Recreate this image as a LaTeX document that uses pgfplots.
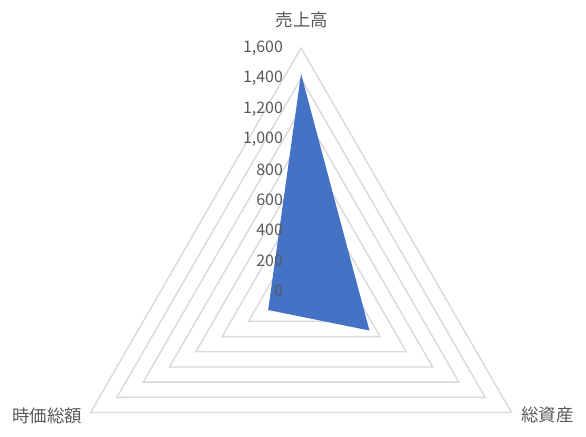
\documentclass[border=0pt]{standalone}
\usepackage{fontspec}
\setmainfont{Noto Sans CJK JP}
\usepackage{pgfplots}
\pgfplotsset{compat=1.18}

\definecolor{series}{RGB}{68,114,196}
\definecolor{gridc}{RGB}{217,217,217}
\definecolor{txt}{RGB}{89,89,89}

\begin{document}
\begin{tikzpicture}
\begin{axis}[
  x=0.151875bp, y=0.151875bp,
  xmin=-1982, xmax=1876, ymin=-961, ymax=1916,
  hide axis, clip=false,
]
% grid triangles, one per 200
\pgfplotsinvokeforeach{200,400,600,800,1000,1200,1400,1600}{
  \addplot[gridc, line width=1.4bp, data cs=polar, mark=none]
    coordinates {(90,#1)(210,#1)(330,#1)(90,#1)(210,#1)};
}
% series
\addplot[fill=series, draw=none, data cs=polar, mark=none]
  coordinates {(90,1430)(210,250)(330,520)(90,1430)};
% value labels
\pgfplotsinvokeforeach{0,200,400,600,800}{
  \node[anchor=east, text=txt, font=\fontsize{16}{16}\selectfont, inner sep=0pt]
    at (axis cs:-118,#1) {#1};
}
\node[anchor=east, text=txt, font=\fontsize{16}{16}\selectfont, inner sep=0pt] at (axis cs:-118,1000) {1,000};
\node[anchor=east, text=txt, font=\fontsize{16}{16}\selectfont, inner sep=0pt] at (axis cs:-118,1200) {1,200};
\node[anchor=east, text=txt, font=\fontsize{16}{16}\selectfont, inner sep=0pt] at (axis cs:-118,1400) {1,400};
\node[anchor=east, text=txt, font=\fontsize{16}{16}\selectfont, inner sep=0pt] at (axis cs:-118,1600) {1,600};
% category labels
\node[text=txt, font=\fontsize{17.5}{17.5}\selectfont, inner sep=0pt] at (axis cs:7,1784) {売上高};
\node[text=txt, font=\fontsize{17.5}{17.5}\selectfont, inner sep=0pt] at (axis cs:-1672,-823) {時価総額};
\node[text=txt, font=\fontsize{17.5}{17.5}\selectfont, inner sep=0pt] at (axis cs:1623,-816) {総資産};
\coordinate (bl) at (axis cs:-1982,-961);
\coordinate (tr) at (axis cs:1876,1916);
\end{axis}
\pgfresetboundingbox
\path[use as bounding box] (bl) rectangle (tr);
\end{tikzpicture}
\end{document}
